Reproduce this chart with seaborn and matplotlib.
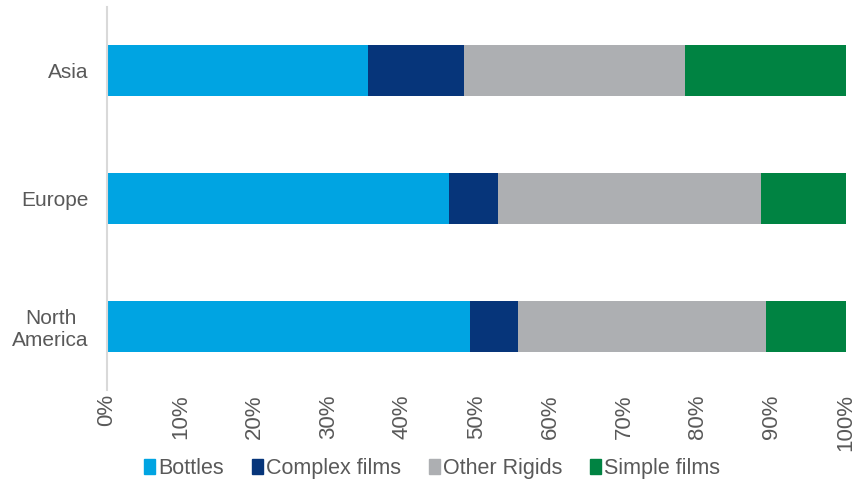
import matplotlib
matplotlib.use("Agg")
import matplotlib.pyplot as plt
import matplotlib.patches as mpatches
import seaborn as sns
import pandas as pd
import numpy as np

regions = ["Asia", "Europe", "North\nAmerica"]
segments = ["Bottles", "Complex films", "Other Rigids", "Simple films"]
bottles = [35.3, 46.3, 49.1]
complex_films = [13.0, 6.6, 6.5]
other_rigids = [29.9, 35.6, 33.6]
simple_films = [21.8, 11.5, 10.8]
colors = ["#00A4E2", "#06357A", "#ADAFB2", "#008342"]
tick_values = [0, 10, 20, 30, 40, 50, 60, 70, 80, 90, 100]

sns.set_theme(style="white")
plt.rcParams["font.family"] = ["Liberation Sans", "DejaVu Sans"]

values = np.array([bottles, complex_films, other_rigids, simple_films])
cumulative = values.cumsum(axis=0)
cumulative = cumulative / cumulative[-1] * 100

fig = plt.figure(figsize=(8.56, 4.83), dpi=100)
ax = fig.add_axes([0.125, 0.1925, 0.863, 0.793])

# stacked bars: draw cumulative totals from the outermost segment inward
for i in range(len(segments) - 1, -1, -1):
    df = pd.DataFrame({"region": regions, "value": cumulative[i]})
    sns.barplot(data=df, x="value", y="region", orient="h", color=colors[i],
                width=0.4, saturation=1, ax=ax, linewidth=0)

ax.set_xlim(0, 100)
ax.set_ylim(2.5, -0.5)
ax.set_xlabel("")
ax.set_ylabel("")
ax.set_xticks(tick_values)
ax.set_xticklabels([f"{v}%" for v in tick_values], rotation=90,
                   fontsize=16, color="#595959")
ax.set_yticks(range(len(regions)))
ax.set_yticklabels(regions, fontsize=15, color="#595959",
                   multialignment="center")
ax.tick_params(axis="y", length=0, pad=13)
ax.tick_params(axis="x", length=0, pad=3)

for side in ["top", "right", "bottom"]:
    ax.spines[side].set_visible(False)
ax.spines["left"].set_color("#D9D9D9")
ax.spines["left"].set_linewidth(1.5)

handles = [mpatches.Patch(color=c, label=s) for c, s in zip(colors, segments)]
fig.legend(handles=handles, loc="center", bbox_to_anchor=(0.505, 0.03),
           ncol=4, frameon=False, fontsize=15.5, handlelength=0.5,
           handleheight=0.7, handletextpad=0.15, columnspacing=1.3,
           labelcolor="#595959")

fig.savefig("out.png", dpi=100)
